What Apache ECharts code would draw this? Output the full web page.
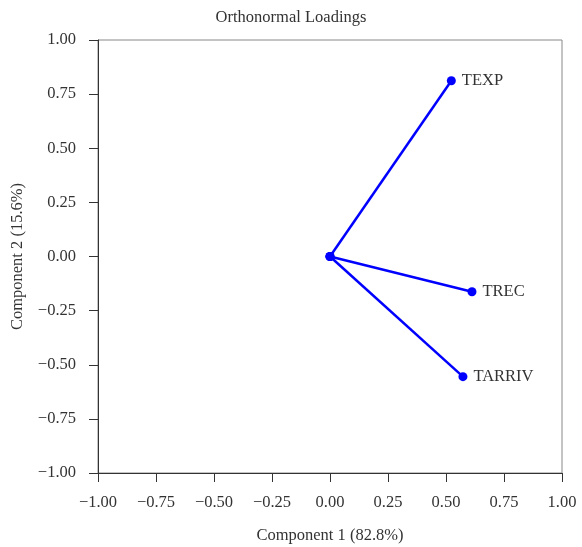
<!DOCTYPE html>
<html>
<head>
<meta charset="utf-8">
<script src="https://cdn.jsdelivr.net/npm/echarts@6/dist/echarts.min.js"></script>
<style>html,body{margin:0;padding:0;background:#fff}#c{width:582px;height:547px}</style>
</head>
<body>
<div id="c"></div>
<script>
var variables = ['TEXP', 'TREC', 'TARRIV'];
var comp1 = [0.523, 0.612, 0.573];
var comp2 = [0.812, -0.163, -0.555];
var tickValues = [-1, -0.75, -0.5, -0.25, 0, 0.25, 0.5, 0.75, 1];

var FONT = '"Liberation Serif", "DejaVu Serif", serif';
var FS = 16.5;
var chart = echarts.init(document.getElementById('c'), null, {renderer: 'canvas'});
function fmt(v) { var s = Math.abs(v).toFixed(2); return (v < 0 ? '\u2212' : '') + s; }

var series = variables.map(function (name, i) {
  return {
    type: 'line',
    name: name,
    data: [
      {value: [0, 0], label: {show: false}},
      {value: [comp1[i], comp2[i]], label: {show: true}}
    ],
    symbol: 'circle',
    symbolSize: 9,
    lineStyle: {color: '#0000ff', width: 2.5},
    itemStyle: {color: '#0000ff'},
    label: {
      position: 'right', distance: 6, formatter: name,
      fontFamily: FONT, fontSize: FS, color: '#333'
    },
    animation: false
  };
});

chart.setOption({
  animation: false,
  title: {
    text: 'Orthonormal Loadings', left: 'center', top: 4,
    textStyle: {fontFamily: FONT, fontSize: FS, fontWeight: 'normal', color: '#333'}
  },
  grid: {left: 98, right: 20, top: 40, bottom: 74, outerBoundsMode: 'none', containLabel: false,
         show: true, borderColor: '#888', borderWidth: 1},
  xAxis: {
    type: 'value', min: -1, max: 1, interval: 0.25,
    name: 'Component 1 (82.8%)', nameLocation: 'middle', nameGap: 54,
    nameTextStyle: {fontFamily: FONT, fontSize: FS, color: '#333'},
    axisLine: {show: true, onZero: false, lineStyle: {color: '#333', width: 1}},
    axisTick: {show: true, length: 9, lineStyle: {color: '#333'}},
    axisLabel: {formatter: fmt, margin: 21, fontFamily: FONT, fontSize: FS, color: '#333'},
    splitLine: {show: false}
  },
  yAxis: {
    type: 'value', min: -1, max: 1, interval: 0.25,
    name: 'Component 2 (15.6%)', nameLocation: 'middle', nameGap: 72,
    nameTextStyle: {fontFamily: FONT, fontSize: FS, color: '#333'},
    axisLine: {show: true, onZero: false, lineStyle: {color: '#333', width: 1}},
    axisTick: {show: true, length: 9, lineStyle: {color: '#333'}},
    axisLabel: {formatter: fmt, margin: 22, fontFamily: FONT, fontSize: FS, color: '#333'},
    splitLine: {show: false}
  },
  series: series
});
</script>
</body>
</html>
